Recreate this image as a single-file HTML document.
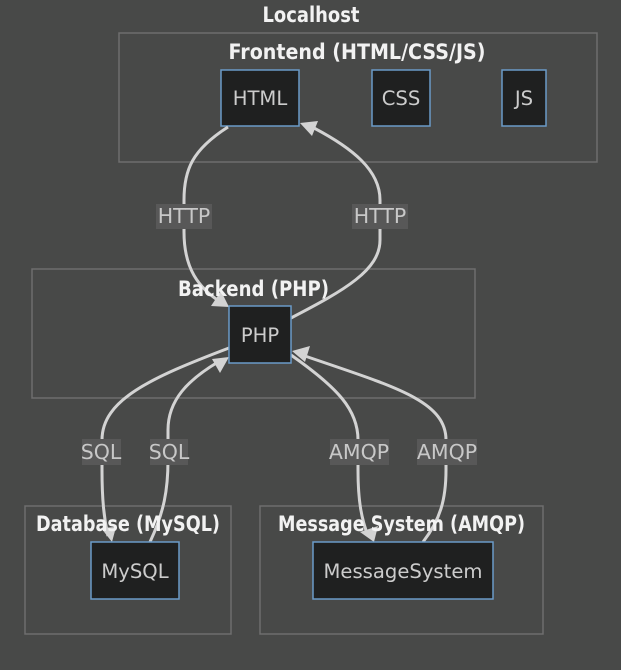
<!DOCTYPE html>
<html><head><meta charset="utf-8"><style>
html,body{margin:0;padding:0;background:#484948;width:621px;height:670px;overflow:hidden}
svg{display:block;font-family:"DejaVu Sans","Liberation Sans",sans-serif}
.cl{fill:none;stroke:#6e6e6e;stroke-width:1.5}
.nd{fill:#1f2020;stroke:#6a9bc8;stroke-width:1.5}
.ct{fill:#f2f2f2;font-size:21px;text-anchor:middle;font-weight:bold}
.nt{fill:#ccc;font-size:19.6px;text-anchor:middle}
.e{fill:none;stroke:#d3d3d3;stroke-width:3}
.lb{fill:#585858}
.lt{fill:#c8c8c8;font-size:20.5px;text-anchor:middle}
</style></head><body>
<svg width="621" height="670" viewBox="0 0 621 670">
<text x="311" y="22" class="ct" textLength="97" lengthAdjust="spacingAndGlyphs">Localhost</text>
<rect x="119" y="33" width="478" height="129" class="cl"/>
<text x="357" y="59" class="ct" textLength="257" lengthAdjust="spacingAndGlyphs">Frontend (HTML/CSS/JS)</text>
<rect x="32" y="269" width="443" height="129" class="cl"/>
<rect x="25" y="506" width="206" height="128" class="cl"/>
<rect x="260" y="506" width="283" height="128" class="cl"/>
<rect x="221" y="70" width="78" height="56" class="nd"/><text x="260" y="105" class="nt">HTML</text>
<rect x="372" y="70" width="58" height="56" class="nd"/><text x="401" y="105" class="nt">CSS</text>
<rect x="502" y="70" width="44" height="56" class="nd"/><text x="524" y="105" class="nt">JS</text>
<path class="e" d="M228,127 C192,150 184,170 184,200 L184,232 C184,268 198,288 222,303"/>
<path class="e" d="M291,318 C345,290 380,270 380,240 L380,200 C380,170 352,148 314,128"/>
<path class="e" d="M229,348 C150,378 102,400 102,440 L102,470 C102,500 104,518 108,536"/>
<path class="e" d="M150,542 C164,512 168,490 168,460 L168,430 C168,400 188,380 218,362"/>
<path class="e" d="M291,355 C338,388 358,410 358,440 L358,470 C358,503 362,520 368,536"/>
<path class="e" d="M423,542 C440,520 446,500 446,470 L446,440 C446,400 392,386 302,355"/>
<polygon points="229,307 211,306 221,291" fill="#d3d3d3"/>
<polygon points="300,123 318,121 312,136" fill="#d3d3d3"/>
<polygon points="112,542 101,528 116,527" fill="#d3d3d3"/>
<polygon points="229,357 212,359 220,373" fill="#d3d3d3"/>
<polygon points="374,542 360,532 378,526" fill="#d3d3d3"/>
<polygon points="292,351 310,346 305,362" fill="#d3d3d3"/>
<text x="253.5" y="296" class="ct" textLength="151" lengthAdjust="spacingAndGlyphs">Backend (PHP)</text>
<text x="128" y="531" class="ct" textLength="184" lengthAdjust="spacingAndGlyphs">Database (MySQL)</text>
<text x="401.5" y="531" class="ct" textLength="247" lengthAdjust="spacingAndGlyphs">Message System (AMQP)</text>
<rect x="229" y="306" width="62" height="57" class="nd"/><text x="260" y="342" class="nt">PHP</text>
<rect x="91" y="542" width="88" height="57" class="nd"/><text x="135" y="578" class="nt">MySQL</text>
<rect x="313" y="542" width="180" height="57" class="nd"/><text x="403" y="578" class="nt">MessageSystem</text>
<rect x="156" y="204" width="56" height="25" class="lb"/><text x="184" y="223" class="lt">HTTP</text>
<rect x="352" y="204" width="56" height="25" class="lb"/><text x="380" y="223" class="lt">HTTP</text>
<rect x="82" y="439" width="39" height="26" class="lb"/><text x="101" y="459" class="lt">SQL</text>
<rect x="150" y="439" width="38" height="26" class="lb"/><text x="169" y="459" class="lt">SQL</text>
<rect x="330" y="439" width="59" height="26" class="lb"/><text x="359" y="459" class="lt">AMQP</text>
<rect x="417" y="439" width="60" height="26" class="lb"/><text x="447" y="459" class="lt">AMQP</text>
</svg>
</body></html>
